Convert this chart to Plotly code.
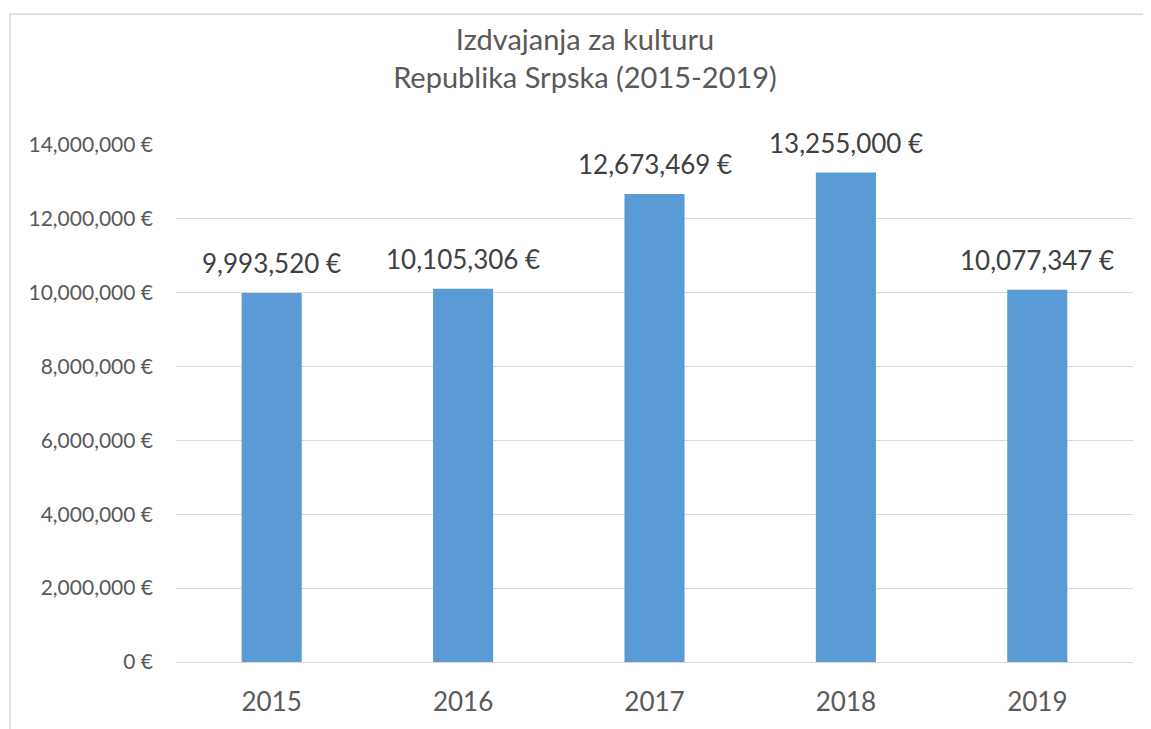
import plotly.graph_objects as go

years = ["2015", "2016", "2017", "2018", "2019"]
values = [9993520, 10105306, 12673469, 13255000, 10077347]
value_labels = ["9,993,520 €", "10,105,306 €", "12,673,469 €", "13,255,000 €", "10,077,347 €"]
y_tickvals = [0, 2000000, 4000000, 6000000, 8000000, 10000000, 12000000, 14000000]
y_ticktext = ["0 €", "2,000,000 €", "4,000,000 €", "6,000,000 €", "8,000,000 €",
              "10,000,000 €", "12,000,000 €", "14,000,000 €"]

FONT = "Lato, 'Open Sans', sans-serif"

fig = go.Figure(go.Bar(
    x=years, y=values,
    marker=dict(color="#5B9BD5", line=dict(width=0)),
    hoverinfo="x+y",
))

# data labels above bars (x given as category index)
for i, (v, lab) in enumerate(zip(values, value_labels)):
    fig.add_annotation(
        x=i, y=v, xref="x", yref="y", text=lab, showarrow=False,
        xanchor="center", yanchor="middle", yshift=30,
        font=dict(size=26, color="#404040", family=FONT),
    )

# page body has an 8px margin; coordinates below are in figure pixels
OFF = 8
W, H = 1151 - OFF, 729 - OFF
L, T = 176 - OFF, 145 - OFF
R = W - (1133 - OFF)
B = H - (667 - OFF)
pw, ph = W - L - R, H - T - B

def px_x(p):
    return (p - OFF - L) / pw

def px_y(p):
    return (H - B - (p - OFF)) / ph

fig.update_layout(
    width=W, height=H,
    margin=dict(l=L, r=R, t=T, b=B),
    paper_bgcolor="white", plot_bgcolor="white",
    bargap=0.686,
    showlegend=False,
    title=dict(
        text="Izdvajanja za kulturu<br>Republika Srpska (2015-2019)",
        x=(585 - OFF) / W, xanchor="center", y=1 - (50 - OFF) / H, yanchor="middle",
        font=dict(size=29, color="#595959", family=FONT),
    ),
    xaxis=dict(
        type="category", range=[-0.5, len(years) - 0.5],
        showgrid=False, showline=False, ticks="",
        tickfont=dict(size=26, color="#595959", family=FONT),
        ticklabelstandoff=22,
    ),
    yaxis=dict(
        range=[0, 14000000],
        tickvals=y_tickvals, ticktext=y_ticktext,
        showgrid=True, gridcolor="#D9D9D9", gridwidth=1.3,
        zeroline=True, zerolinecolor="#D9D9D9", zerolinewidth=1.3,
        showline=False, ticks="",
        tickfont=dict(size=21, color="#595959", family=FONT),
        ticklabelstandoff=22,
    ),
    shapes=[dict(
        type="rect", xref="paper", yref="paper",
        x0=px_x(10), x1=px_x(1170), y0=px_y(760), y1=px_y(13),
        line=dict(color="#D9D9D9", width=1.5), fillcolor="rgba(0,0,0,0)",
        layer="below",
    )],
)

fig.write_html("out.html")
